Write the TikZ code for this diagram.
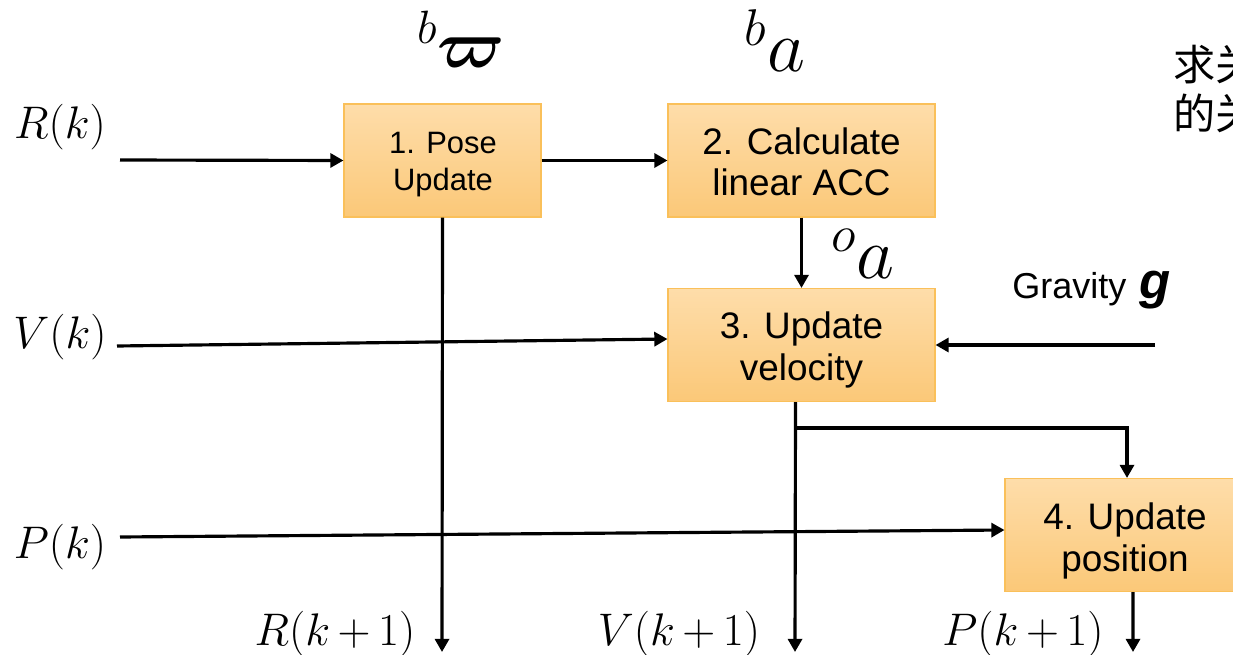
\RequirePackage{fix-cm}
\documentclass[tikz,border=0pt]{standalone}
\usepackage{bm}
\usepackage{fontspec}
\setmainfont{Liberation Sans}
\newfontfamily\cjk{Noto Sans CJK SC}
\usetikzlibrary{arrows.meta}
\begin{document}
\begin{tikzpicture}[x=0.02cm,y=-0.02cm,
  conn/.style={line width=1.8pt,-{Triangle[length=7.5pt,width=8pt]}},
  plain/.style={line width=1.8pt},
  blk/.style={draw={rgb,255:red,250;green,192;blue,90},line width=0.6pt,
    top color={rgb,255:red,254;green,221;blue,170},
    bottom color={rgb,255:red,251;green,200;blue,120},
    inner sep=0pt,minimum height=113*0.02cm},
  btxt/.style={align=center,inner sep=0pt},
  mlab/.style={inner sep=0pt,anchor=base,font=\fontsize{26}{28}\selectfont},
  glab/.style={inner sep=0pt,anchor=base}]
\useasboundingbox (0,0) rectangle (1233,655);
\clip (0,0) rectangle (1233,655);
% boxes
\node[blk,minimum width=197*0.02cm] (b1) at (442.5,160.5) {};
\node[btxt,font=\fontsize{17.6}{21}\selectfont] (t1) at (443,165) {1. Pose\\Update};
\node[blk,minimum width=267*0.02cm] (b2) at (801.5,160.5) {};
\node[btxt,font=\fontsize{21}{23.5}\selectfont] (t2) at (801.5,162) {2. Calculate\\linear ACC};
\node[blk,minimum width=267*0.02cm] (b3) at (801.5,345) {};
\node[btxt,font=\fontsize{21}{23.5}\selectfont] (t3) at (801.5,350) {3. Update\\velocity};
\node[blk,minimum width=240*0.02cm] (b4) at (1125,535) {};
\node[btxt,font=\fontsize{21}{23.5}\selectfont] (t4) at (1125,541) {4. Update\\position};
% input labels
\node[mlab] (rk) at (60,139) {$R(k)$};
\node[mlab] (vk) at (60,348) {$V(k)$};
\node[mlab] (pk) at (60,558) {$P(k)$};
\coordinate (rin) at (120,160);
\coordinate (vin) at (117,346);
\coordinate (pin) at (120,537);
% output labels
\node[mlab] (rk1) at (335,645) {$R(k\,{+}\,1)$};
\node[mlab] (vk1) at (679,645) {$V(k\,{+}\,1)$};
\node[mlab] (pk1) at (1023,645) {$P(k\,{+}\,1)$};
\coordinate (rout) at (442,652);
\coordinate (vout) at (795,652);
\coordinate (pout) at (1133,652);
% top labels
\node[glab,font=\fontsize{38}{40}\selectfont] (w) at (461,68) {$^{b}\bm{\varpi}$};
\node[glab,font=\fontsize{42}{44}\selectfont] (ba) at (775,72) {$^{b}a$};
\node[glab,font=\fontsize{42}{44}\selectfont] (oa) at (863,278) {$^{o}a$};
% gravity
\node[glab,anchor=base west,font=\fontsize{20.5}{22}\selectfont] (grav) at (1012,298) {Gravity};
\node[glab,anchor=base west,font=\fontsize{29}{30}\selectfont\bfseries\itshape] (g) at (1139,298) {g};
\coordinate (gin) at (1155,345);
% chinese
\node[glab,anchor=base west,font=\fontsize{24}{26}\cjk] (c1) at (1173,81) {求关};
\node[glab,anchor=base west,font=\fontsize{24}{26}\cjk] (c2) at (1173,130) {的关};
% connectors
\draw[conn] (rin) -- (b1.west);
\draw[conn] (b1.east) -- (b2.west);
\draw[conn] (b1.south) -- (rout);
\draw[conn] (b2.south) -- (b3.north);
\draw[conn] (vin) -- ([yshift=0.12cm]b3.west);
\draw[conn] (gin) -- (b3.east);
\draw[conn] ([xshift=-0.12cm]b3.south) -- (vout);
\draw[plain] ([xshift=-0.12cm,yshift=-0.52cm]b3.south) -| ([xshift=0.04cm,yshift=0.9cm]b4.north);
\draw[conn] ([xshift=0.04cm,yshift=1cm]b4.north) -- ([xshift=0.04cm]b4.north);
\draw[conn] (pin) -- ([yshift=0.1cm]b4.west);
\draw[conn] ([xshift=0.16cm]b4.south) -- (pout);
\end{tikzpicture}
\end{document}
